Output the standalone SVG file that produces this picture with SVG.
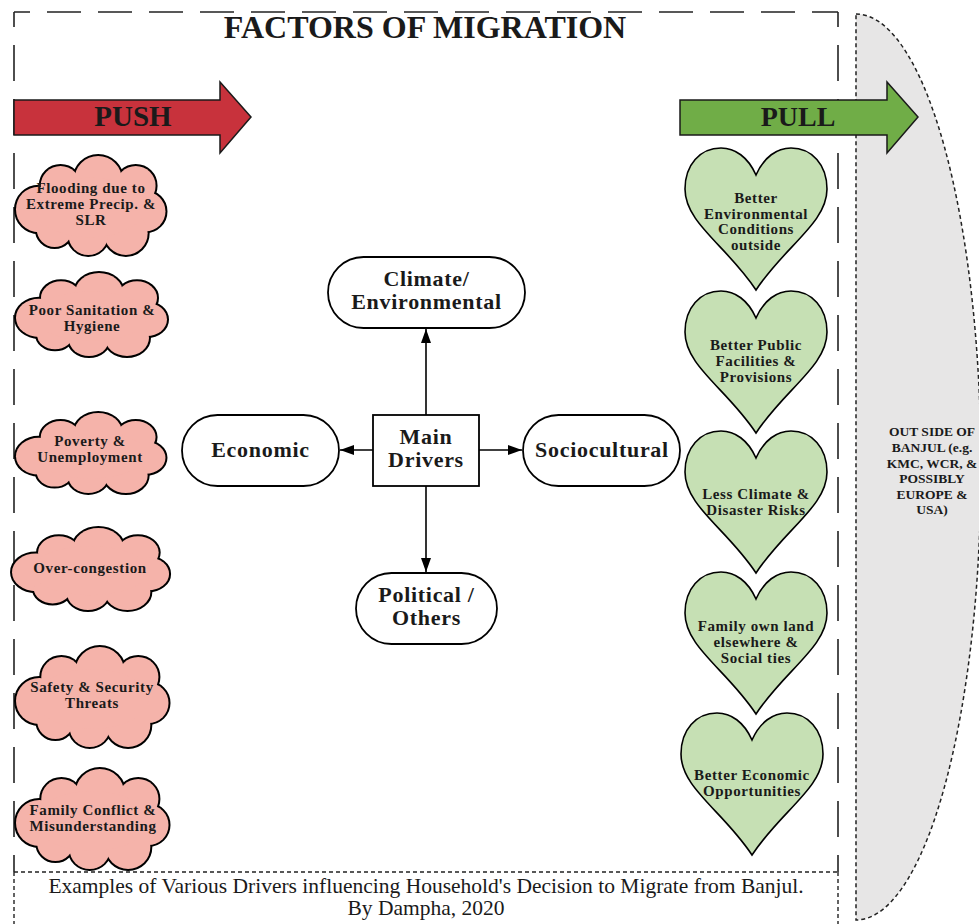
<svg xmlns="http://www.w3.org/2000/svg" width="979" height="924" viewBox="0 0 979 924">
<style>
.t{font-family:"Liberation Serif","Times New Roman",serif;fill:#1a1a1a;text-anchor:middle}
.b{font-weight:bold}
.s15{font-size:15px;letter-spacing:0.6px}
.s24{font-size:22px;letter-spacing:0.7px}
.node{fill:#fff;stroke:#000;stroke-width:1.8}
.conn{stroke:#000;stroke-width:1.6;fill:none;marker-end:url(#ah)}
.heart{fill:#c6e0b4;stroke:#000;stroke-width:1.6}
.cloudU{fill:#f5b3aa;stroke:#000;stroke-width:4}
.cloudF{fill:#f5b3aa;stroke:none}
#cloudShape > *{vector-effect:non-scaling-stroke}
.longdash{fill:none;stroke:#222;stroke-width:1.6}
.shortdash{fill:none;stroke:#222;stroke-width:1.4;stroke-dasharray:4 3}
</style>
<defs>
<marker id="ah" viewBox="0 0 14 10" refX="14" refY="5" markerWidth="14" markerHeight="10" markerUnits="userSpaceOnUse" orient="auto">
<path d="M0,0 L14,5 L0,10 Z" fill="#000"/>
</marker>
<g id="cloudShape">
<circle cx="24" cy="54" r="23"/>
<circle cx="46" cy="30" r="20"/>
<circle cx="84" cy="24" r="24"/>
<circle cx="122" cy="30" r="20"/>
<circle cx="132" cy="56" r="20"/>
<circle cx="112" cy="78" r="22"/>
<circle cx="74" cy="80" r="20"/>
<circle cx="40" cy="74" r="18"/>
<ellipse cx="76" cy="52" rx="56" ry="30"/>
</g>
<path id="heartShape" d="M71,27 C63,9 50,0 36,0 C15,0 0,17 0,41 C0,75 42,98 71,142 C100,98 142,75 142,41 C142,17 127,0 106,0 C92,0 79,9 71,27 Z"/>
</defs>

<!-- outer frame -->
<g id="frame">
<path class="longdash" d="M14,12 H838" stroke-dasharray="34 17" stroke-dashoffset="18"/>
<path class="longdash" d="M14,12 V872" stroke-dasharray="36 18" stroke-dashoffset="21"/>
<path class="longdash" d="M838,12 V872" stroke-dasharray="36 18" stroke-dashoffset="21"/>
<path class="shortdash" d="M14,872 H838 M14,872 V924 M838,872 V924"/>
</g>

<!-- outside region -->
<g id="outside">
<path d="M856,14 A125,453 0 0 1 856,920 Z" fill="#e7e6e6" stroke="#222" stroke-width="1.5" stroke-dasharray="4 3"/>
<text class="t b" font-size="13.5"><tspan x="932" y="436">OUT SIDE OF</tspan><tspan x="932" y="452">BANJUL (e.g.</tspan><tspan x="932" y="468">KMC, WCR, &amp;</tspan><tspan x="932" y="483">POSSIBLY</tspan><tspan x="932" y="499">EUROPE &amp;</tspan><tspan x="932" y="514">USA)</tspan></text>
</g>

<!-- title -->
<text id="title" class="t b" x="425" y="38" font-size="32">FACTORS OF MIGRATION</text>

<!-- push / pull arrows -->
<g id="push">
<path d="M14,100 L220,100 L220,82 L251,117 L220,153 L220,135 L14,135 Z" fill="#c8323c" stroke="#1a1a1a" stroke-width="1.5"/>
<text class="t b" x="133" y="126" font-size="29">PUSH</text>
</g>
<g id="pull">
<path d="M680,100 L887,100 L887,82 L918,117 L887,153 L887,135 L680,135 Z" fill="#70ad47" stroke="#1a1a1a" stroke-width="1.5"/>
<text class="t b" x="798" y="126" font-size="28">PULL</text>
</g>

<!-- push clouds -->
<g id="cloud1">
<use href="#cloudShape" class="cloudU" transform="translate(15,156) scale(0.99,0.99)"/>
<use href="#cloudShape" class="cloudF" transform="translate(15,156) scale(0.99,0.99)"/>
<text class="t b s15"><tspan x="91" y="193">Flooding due to</tspan><tspan x="91" y="209">Extreme Precip. &amp;</tspan><tspan x="91" y="225">SLR</tspan></text>
</g>
<g id="cloud2">
<use href="#cloudShape" class="cloudU" transform="translate(15,273) scale(1,0.83)"/>
<use href="#cloudShape" class="cloudF" transform="translate(15,273) scale(1,0.83)"/>
<text class="t b s15"><tspan x="92" y="315">Poor Sanitation &amp;</tspan><tspan x="92" y="331">Hygiene</tspan></text>
</g>
<g id="cloud3">
<use href="#cloudShape" class="cloudU" transform="translate(15,413) scale(0.99,0.8)"/>
<use href="#cloudShape" class="cloudF" transform="translate(15,413) scale(0.99,0.8)"/>
<text class="t b s15"><tspan x="90" y="446">Poverty &amp;</tspan><tspan x="90" y="462">Unemployment</tspan></text>
</g>
<g id="cloud4">
<use href="#cloudShape" class="cloudU" transform="translate(11,528) scale(1.04,0.82)"/>
<use href="#cloudShape" class="cloudF" transform="translate(11,528) scale(1.04,0.82)"/>
<text class="t b s15"><tspan x="90" y="573">Over-congestion</tspan></text>
</g>
<g id="cloud5">
<use href="#cloudShape" class="cloudU" transform="translate(15,647) scale(1.01,1)"/>
<use href="#cloudShape" class="cloudF" transform="translate(15,647) scale(1.01,1)"/>
<text class="t b s15"><tspan x="92" y="692">Safety &amp; Security</tspan><tspan x="92" y="708">Threats</tspan></text>
</g>
<g id="cloud6">
<use href="#cloudShape" class="cloudU" transform="translate(15,769) scale(1.01,1)"/>
<use href="#cloudShape" class="cloudF" transform="translate(15,769) scale(1.01,1)"/>
<text class="t b s15"><tspan x="93" y="815">Family Conflict &amp;</tspan><tspan x="93" y="831">Misunderstanding</tspan></text>
</g>

<!-- pull hearts -->
<g id="heart1">
<use href="#heartShape" class="heart" transform="translate(685,148)"/>
<text class="t b s15"><tspan x="756" y="203">Better</tspan><tspan x="756" y="219">Environmental</tspan><tspan x="756" y="234">Conditions</tspan><tspan x="756" y="250">outside</tspan></text>
</g>
<g id="heart2">
<use href="#heartShape" class="heart" transform="translate(685,291)"/>
<text class="t b s15"><tspan x="756" y="350">Better Public</tspan><tspan x="756" y="366">Facilities &amp;</tspan><tspan x="756" y="382">Provisions</tspan></text>
</g>
<g id="heart3">
<use href="#heartShape" class="heart" transform="translate(685,431)"/>
<text class="t b s15"><tspan x="756" y="499">Less Climate &amp;</tspan><tspan x="756" y="515">Disaster Risks</tspan></text>
</g>
<g id="heart4">
<use href="#heartShape" class="heart" transform="translate(685,572)"/>
<text class="t b s15"><tspan x="756" y="631">Family own land</tspan><tspan x="756" y="647">elsewhere &amp;</tspan><tspan x="756" y="663">Social ties</tspan></text>
</g>
<g id="heart5">
<use href="#heartShape" class="heart" transform="translate(681,713)"/>
<text class="t b s15"><tspan x="752" y="780">Better Economic</tspan><tspan x="752" y="796">Opportunities</tspan></text>
</g>

<!-- central drivers -->
<g id="connectors">
<path class="conn" d="M426,415 V329"/>
<path class="conn" d="M373,450 H340"/>
<path class="conn" d="M479,450 H522"/>
<path class="conn" d="M426,486 V572"/>
</g>
<g id="mainDrivers">
<rect class="node" x="373" y="415" width="106" height="71"/>
<text class="t b s24"><tspan x="426" y="444">Main</tspan><tspan x="426" y="467">Drivers</tspan></text>
</g>
<g id="climate">
<rect class="node" x="328" y="257" width="197" height="71" rx="35.5"/>
<text class="t b s24"><tspan x="426.5" y="286">Climate/</tspan><tspan x="426.5" y="309">Environmental</tspan></text>
</g>
<g id="economic">
<rect class="node" x="182" y="415" width="157" height="71" rx="35.5"/>
<text class="t b s24" x="260.5" y="457">Economic</text>
</g>
<g id="sociocultural">
<rect class="node" x="523" y="415" width="157" height="71" rx="35.5"/>
<text class="t b s24" x="602" y="457">Sociocultural</text>
</g>
<g id="political">
<rect class="node" x="356" y="573" width="141" height="71" rx="35.5"/>
<text class="t b s24"><tspan x="426.5" y="602">Political /</tspan><tspan x="426.5" y="625">Others</tspan></text>
</g>

<!-- caption -->
<g id="caption">
<text class="t" font-size="21.5"><tspan x="426" y="893">Examples of Various Drivers influencing Household's Decision to Migrate from Banjul.</tspan><tspan x="426" y="915">By Dampha, 2020</tspan></text>
</g>
</svg>
